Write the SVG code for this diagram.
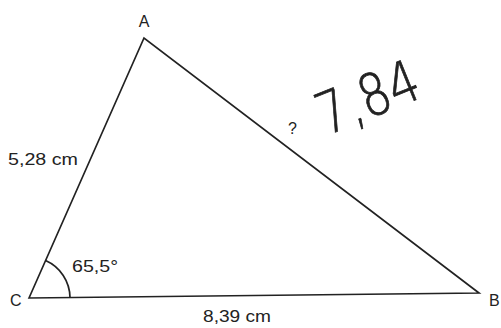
<svg xmlns="http://www.w3.org/2000/svg" width="501" height="328" viewBox="0 0 501 328">
<style>
.lbl{font-family:"Liberation Sans Narrow","Liberation Sans",Arial,sans-serif;font-size:16px;fill:#222}
.edge{fill:none;stroke:#222;stroke-width:1.7;stroke-linejoin:miter}
.hand{font-family:"DejaVu Sans","Liberation Sans",sans-serif;font-weight:200;font-size:58px;fill:#222;stroke:#222;stroke-width:0.8}
</style>
<rect width="501" height="328" fill="#fff"/>
<g id="connectors">
<path class="edge" d="M29,298 L144,38 L479,293 Z"/>
<path class="edge" d="M70,297.5 A41,41 0 0 0 45.6,260.5" stroke-width="1.3"/>
</g>
<g id="A"><text class="lbl" x="144" y="27" text-anchor="middle">A</text></g>
<g id="B"><text class="lbl" x="489" y="306">B</text></g>
<g id="C"><text class="lbl" x="10" y="306">C</text></g>
<g id="side-CA"><text class="lbl" x="8" y="165" textLength="70" lengthAdjust="spacingAndGlyphs">5,28 cm</text></g>
<g id="side-CB"><text class="lbl" x="203" y="322" textLength="68" lengthAdjust="spacingAndGlyphs">8,39 cm</text></g>
<g id="angle"><text class="lbl" x="72" y="272" textLength="46" lengthAdjust="spacingAndGlyphs">65,5°</text></g>
<g id="side-AB"><text class="lbl" x="288" y="134" font-size="13">?</text></g>
<g id="answer"><text class="hand" x="326" y="136" transform="rotate(-22 326 136)" textLength="106" lengthAdjust="spacingAndGlyphs">7,84</text></g>
</svg>
